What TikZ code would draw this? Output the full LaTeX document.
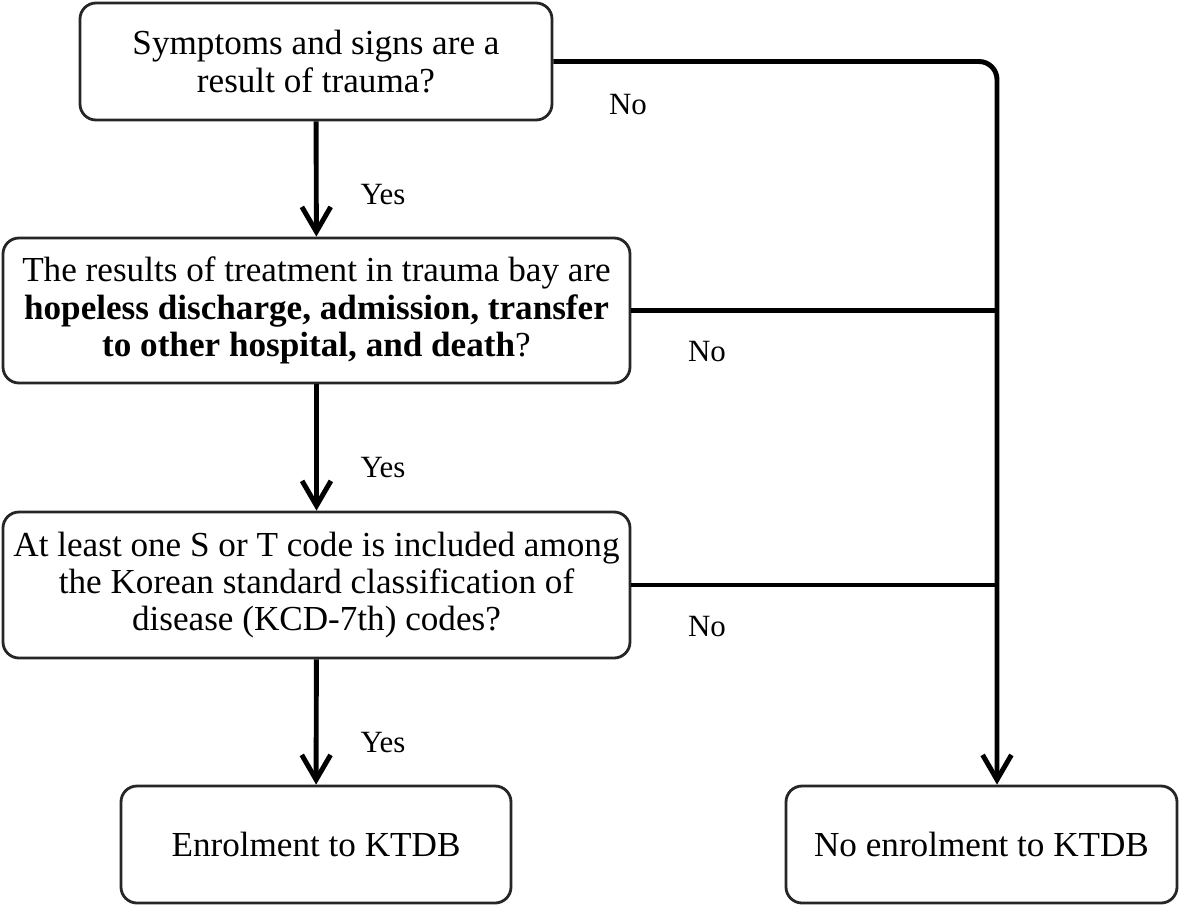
\documentclass[tikz,border=0pt]{standalone}
\usepackage{fontspec}
\setmainfont{Liberation Serif}
\usepackage{tikz}
\usetikzlibrary{arrows.meta}
\tikzset{
  qbox/.style={draw=black!85, line width=2pt, rounded corners=0.4cm, align=center,
    inner sep=0pt, font=\fontsize{25}{26.5}\selectfont},
  arr/.style={line width=3.5pt, -{Straight Barb[length=0.62cm, width=0.72cm]}},
  link/.style={line width=3.5pt},
  lab/.style={font=\fontsize{22}{26.5}\selectfont, inner sep=0pt},
}
\begin{document}
\begin{tikzpicture}
\useasboundingbox (0,0) rectangle (29.5,-22.675);
% questions
\node[qbox, minimum width=11.8cm, minimum height=2.925cm] (q1) at (7.9,-1.5375)
  {Symptoms and signs are a\\result of trauma?};
\node[qbox, minimum width=15.675cm, minimum height=3.625cm] (q2) at (7.9125,-7.7625)
  {The results of treatment in trauma bay are\\
   \textbf{hopeless discharge, admission, transfer}\\
   \textbf{to other hospital, and death}?};
\node[qbox, minimum width=15.675cm, minimum height=3.65cm] (q3) at (7.9125,-14.625)
  {At least one S or T code is included among\\
   the Korean standard classification of\\
   disease (KCD-7th) codes?};
% outcomes
\node[qbox, minimum width=9.75cm, minimum height=2.925cm] (yes) at (7.9,-21.1125)
  {Enrolment to KTDB};
\node[qbox, minimum width=9.775cm, minimum height=2.925cm] (no) at (24.5375,-21.1125)
  {No enrolment to KTDB};
\coordinate (rail) at (24.925,0);
% yes branch
\draw[arr] (q1) -- (q2);
\draw[arr] (q2) -- (q3);
\draw[arr] (q3) -- (yes);
\node[lab] (y1) at (9.575,-4.875) {Yes};
\node[lab] (y2) at (9.575,-11.7) {Yes};
\node[lab] (y3) at (9.575,-18.575) {Yes};
% no branch
\draw[arr, rounded corners=0.45cm] (q1.east) -| (rail |- no.north);
\draw[link] (q2.east) -- (q2.east -| rail);
\draw[link] (q3.east) -- (q3.east -| rail);
\node[lab] (n1) at (15.7,-2.625) {No};
\node[lab] (n2) at (17.675,-8.8) {No};
\node[lab] (n3) at (17.675,-15.675) {No};
\end{tikzpicture}
\end{document}
